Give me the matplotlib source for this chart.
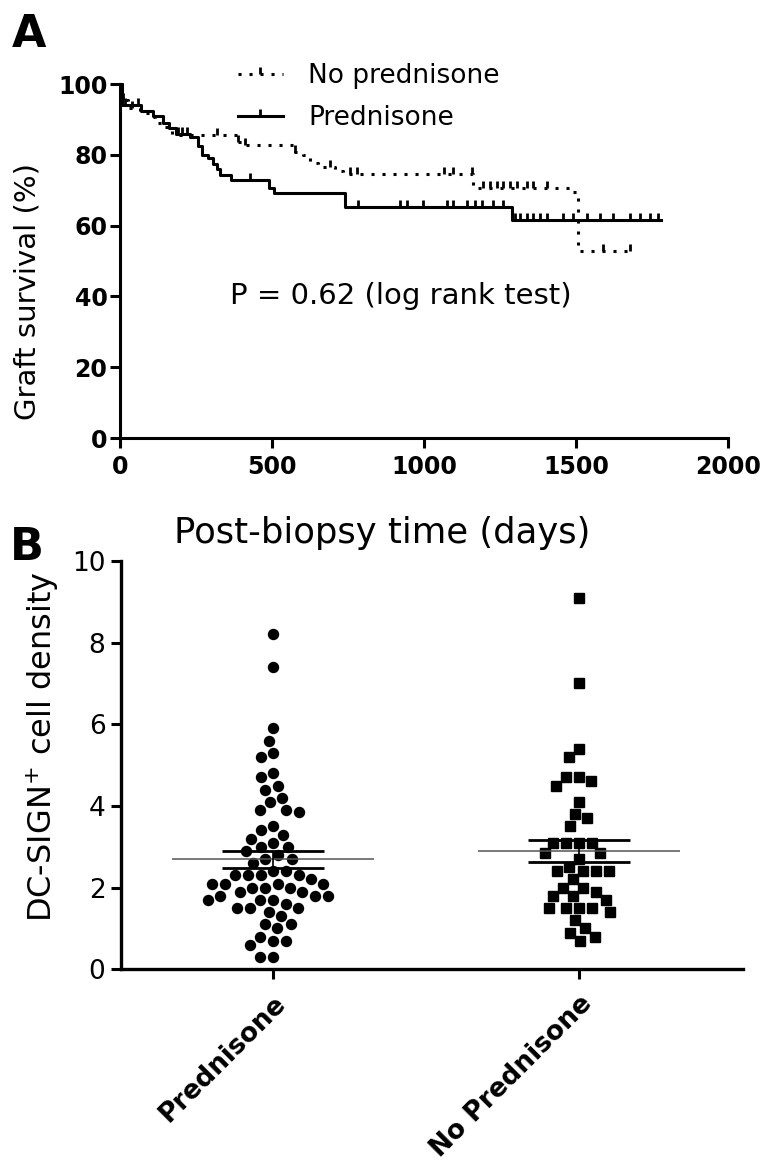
import numpy as np
import matplotlib
matplotlib.use("Agg")
import matplotlib.pyplot as plt
from matplotlib.lines import Line2D
from matplotlib.path import Path

plt.rcParams['font.family'] = ['DejaVu Sans']

# ---------------- data: panel A (Kaplan-Meier) ----------------
pred_t = [0, 5, 70, 110, 140, 160, 185, 230, 255, 270, 290, 305, 320, 330, 365, 490, 505, 740, 1290]
pred_s = [100, 94.1, 92.5, 91.0, 89.0, 87.5, 86.0, 85.0, 82.5, 80.0, 79.0, 77.5, 76.0, 74.3, 72.9, 70.5, 69.1, 65.3, 61.6]
pred_end = 1780
pred_cens = [15, 59, 190, 205, 220, 428, 784, 921, 943, 997, 1075, 1096, 1140, 1168, 1190, 1228, 1261,
             1299, 1316, 1338, 1360, 1382, 1404, 1458, 1491, 1535, 1579, 1623, 1678, 1711, 1743, 1771]

nopred_t = [0, 5, 27, 66, 100, 115, 148, 170, 389, 406, 576, 603, 625, 652, 707, 735, 1162, 1480, 1505]
nopred_s = [100, 95.5, 93.1, 91.7, 90.8, 88.9, 87.9, 85.6, 83.7, 82.8, 80.9, 79.9, 77.6, 76.6, 75.5, 74.5, 70.5, 69.6, 52.8]
nopred_end = 1690
nopred_cens = [10, 40, 318, 389, 411, 576, 691, 757, 779, 1065, 1096, 1158, 1195, 1217, 1239, 1261,
               1283, 1305, 1338, 1360, 1404, 1590, 1678]

km_labels = ["No prednisone", "Prednisone"]
xticksA = [0, 500, 1000, 1500, 2000]
yticksA = [0, 20, 40, 60, 80, 100]

# ---------------- data: panel B (scatter) ----------------
groups = ["Prednisone", "No Prednisone"]
pred_vals = [8.2, 7.4, 5.9, 5.6, 5.3, 5.2, 4.8, 4.7, 4.5, 4.4, 4.2, 4.1, 3.9, 3.9, 3.85, 3.5, 3.4, 3.3,
             3.2, 3.1, 3.0, 3.0, 2.9, 2.8, 2.7, 2.7, 2.6, 2.4, 2.4, 2.3, 2.3, 2.3, 2.3, 2.2, 2.1, 2.1,
             2.1, 2.1, 2.0, 2.0, 2.0, 1.9, 1.9, 1.8, 1.8, 1.8, 1.7, 1.7, 1.7, 1.6, 1.5, 1.5, 1.5, 1.4,
             1.3, 1.1, 1.1, 1.0, 0.8, 0.7, 0.7, 0.6, 0.3, 0.3]
nopred_vals = [9.1, 7.0, 5.4, 5.2, 4.7, 4.7, 4.6, 4.5, 4.1, 3.8, 3.7, 3.5, 3.1, 3.1, 3.1, 3.1, 2.85, 2.85,
               2.7, 2.5, 2.4, 2.4, 2.4, 2.4, 2.2, 2.0, 2.0, 1.9, 1.8, 1.8, 1.7, 1.5, 1.5, 1.5, 1.5, 1.4,
               1.2, 1.0, 0.9, 0.8, 0.7]
yticksB = [0, 2, 4, 6, 8, 10]

W, H = 761, 1165
fig = plt.figure(figsize=(W / 100, H / 100), dpi=100)

# censor tick marker: a short vertical stroke rising from the curve
cens_marker = Path([(0, 0), (0, 1)], [Path.MOVETO, Path.LINETO])

# ================= Panel A =================
axA = fig.add_axes([120 / W, 1 - 438 / H, 608 / W, 354 / H])
axA.set_xlim(0, 2000)
axA.set_ylim(0, 100)


def km_value(ts, ss, times):
    idx = np.searchsorted(np.asarray(ts), np.asarray(times), side='right') - 1
    return np.asarray(ss)[idx]


lw_km = 2.2
dot_style = (0, (1.0, 2.6))
axA.step(nopred_t + [nopred_end], nopred_s + [nopred_s[-1]], where='post', color='black',
         lw=lw_km, ls=dot_style, dash_capstyle='butt', clip_on=False)
axA.plot(nopred_cens, km_value(nopred_t, nopred_s, nopred_cens), ls='none', marker=cens_marker,
         ms=10, mew=2.0, color='black', clip_on=False)
axA.step(pred_t + [pred_end], pred_s + [pred_s[-1]], where='post', color='black', lw=lw_km,
         clip_on=False)
axA.plot(pred_cens, km_value(pred_t, pred_s, pred_cens), ls='none', marker=cens_marker, ms=10,
         mew=2.0, color='black', clip_on=False)

for s in ['top', 'right']:
    axA.spines[s].set_visible(False)
for s in ['left', 'bottom']:
    axA.spines[s].set_linewidth(2.2)
axA.set_xticks(xticksA)
axA.set_yticks(yticksA)
axA.tick_params(axis='both', length=7.5, width=2.2, labelsize=17)
axA.tick_params(axis='y', pad=1.5)
axA.tick_params(axis='x', pad=5)
for lab in axA.get_xticklabels() + axA.get_yticklabels():
    lab.set_fontweight('bold')

axA.set_ylabel("Graft survival (%)", fontsize=21)
axA.yaxis.set_label_coords((27 - 120) / 608, 0.413)
axA.yaxis.label.set_va('center')
axA.set_xlabel("Post-biopsy time (days)", fontsize=25.5)
axA.xaxis.set_label_coords(0.431, -(533 - 438) / 354)
axA.xaxis.label.set_va('center')

axA.text(925, 40, "P = 0.62 (log rank test)", fontsize=21, ha='center', va='center')

handles = [Line2D([], [], color='black', lw=lw_km, ls=dot_style, marker=cens_marker, ms=10, mew=2.0),
           Line2D([], [], color='black', lw=lw_km, ls='-', marker=cens_marker, ms=10, mew=2.0)]
axA.legend(handles, km_labels, loc='upper left', bbox_to_anchor=(238 / W, 1 - 63 / H),
           bbox_transform=fig.transFigure, frameon=False, fontsize=19, numpoints=1,
           handlelength=1.7, handletextpad=0.95, labelspacing=0.62, borderpad=0, borderaxespad=0)

fig.text(12 / W, 1 - 13 / H, "A", fontsize=32, fontweight='bold', ha='left', va='top')

# ================= Panel B =================
axB = fig.add_axes([120.7 / W, 1 - 969.3 / H, (743 - 120.7) / W, (969.3 - 561) / H])
axB.set_xlim(-0.499, 1.536)
axB.set_ylim(0, 10)

# pixel scales for swarm layout
p0 = axB.transData.transform((0, 0))
p1 = axB.transData.transform((1, 1))
px_x = p1[0] - p0[0]
px_y = p1[1] - p0[1]


def swarm_offsets(vals, d):
    ys = np.asarray(vals) * px_y
    xs = np.zeros(len(ys))
    placed = []
    for i in range(len(ys)):
        y = ys[i]
        cands = [0.0]
        for (qx, qy) in placed:
            dy = abs(qy - y)
            if dy < d:
                dx = np.sqrt(d * d - dy * dy)
                cands += [qx - dx, qx + dx]
        cands.sort(key=lambda c: (abs(c), c))
        for c in cands:
            ok = all((c - qx) ** 2 + (y - qy) ** 2 >= d * d - 1e-6 for (qx, qy) in placed)
            if ok:
                xs[i] = c
                placed.append((c, y))
                break
    return xs / px_x


markers = ['o', 's']
msizes = [7.2, 6.8]
for gi, vals in enumerate([pred_vals, nopred_vals]):
    offs = swarm_offsets(vals, 13.0)
    axB.plot(gi + offs, vals, ls='none', marker=markers[gi], ms=msizes[gi], color='black',
             mec='black', clip_on=False, zorder=3)
    m = np.mean(vals)
    sem = np.std(vals, ddof=1) / np.sqrt(len(vals))
    axB.hlines(m, gi - 0.33, gi + 0.33, color='#555555', lw=1.1, zorder=4)
    axB.hlines([m - sem, m + sem], gi - 0.167, gi + 0.167, color='black', lw=2.0, zorder=4)
    axB.vlines(gi, m - sem, m + sem, color='black', lw=1.2, zorder=4)

for s in ['top', 'right']:
    axB.spines[s].set_visible(False)
for s in ['left', 'bottom']:
    axB.spines[s].set_linewidth(2.4)
axB.set_yticks(yticksB)
axB.set_xticks([0, 1])
axB.set_xticklabels(groups, rotation=45, ha='right', rotation_mode='anchor',
                    fontsize=19, fontweight='bold')
axB.tick_params(axis='both', length=7.5, width=2.2)
axB.tick_params(axis='y', labelsize=19, pad=3.5)
axB.tick_params(axis='x', pad=8)
axB.set_ylabel("DC-SIGN$^{+}$ cell density", fontsize=23)
axB.yaxis.set_label_coords((42 - 120.7) / (743 - 120.7), 0.545)
axB.yaxis.label.set_va('center')

fig.text(10 / W, 1 - 526 / H, "B", fontsize=32, fontweight='bold', ha='left', va='top')

fig.savefig("out.png", dpi=100)
